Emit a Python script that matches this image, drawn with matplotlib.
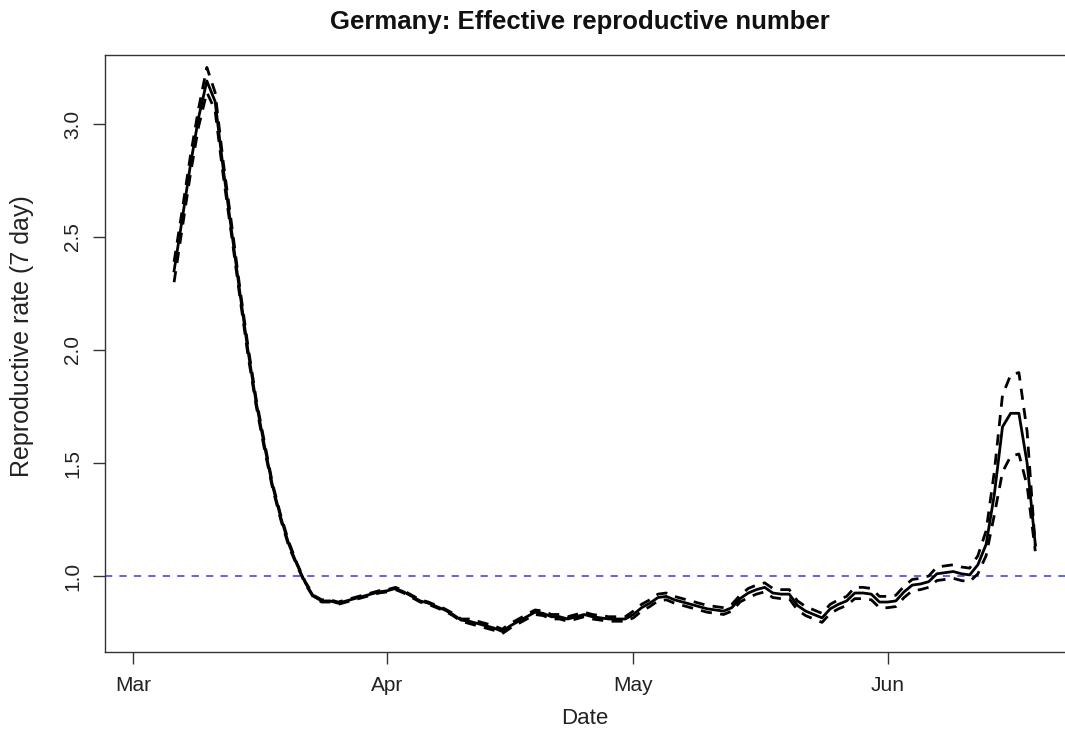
import numpy as np
import matplotlib
matplotlib.use("Agg")
import matplotlib.pyplot as plt
import matplotlib.dates as mdates
import datetime as dt

# daily estimates, 2020-03-06 .. 2020-06-19
start = dt.date(2020, 3, 6)
r_mid = [2.35, 2.58, 2.82, 3.03, 3.19, 3.10, 2.80, 2.53, 2.26, 2.00,
         1.77, 1.58, 1.40, 1.26, 1.14, 1.05, 0.97, 0.91, 0.89, 0.89,
         0.88, 0.89, 0.90, 0.91, 0.92, 0.93, 0.935, 0.945, 0.93, 0.91,
         0.89, 0.88, 0.865, 0.85, 0.83, 0.805, 0.80, 0.79, 0.78, 0.77,
         0.755, 0.78, 0.80, 0.82, 0.84, 0.835, 0.82, 0.82, 0.81, 0.82,
         0.83, 0.82, 0.815, 0.81, 0.81, 0.81, 0.83, 0.86, 0.88, 0.905,
         0.91, 0.895, 0.885, 0.875, 0.865, 0.855, 0.85, 0.845, 0.86, 0.90,
         0.925, 0.94, 0.95, 0.925, 0.92, 0.92, 0.87, 0.845, 0.83, 0.815,
         0.855, 0.875, 0.89, 0.925, 0.925, 0.92, 0.885, 0.885, 0.89, 0.93,
         0.96, 0.965, 0.975, 1.01, 1.015, 1.02, 1.01, 1.005, 1.05, 1.14,
         1.36, 1.66, 1.72, 1.72, 1.50, 1.14]
r_lo = [2.30, 2.54, 2.78, 2.99, 3.14, 3.06, 2.77, 2.51, 2.24, 1.98,
        1.755, 1.565, 1.39, 1.25, 1.13, 1.045, 0.965, 0.905, 0.885, 0.885,
        0.875, 0.885, 0.895, 0.905, 0.915, 0.925, 0.93, 0.94, 0.925, 0.905,
        0.885, 0.875, 0.86, 0.845, 0.825, 0.80, 0.79, 0.78, 0.77, 0.76,
        0.745, 0.77, 0.79, 0.81, 0.83, 0.825, 0.81, 0.81, 0.80, 0.81,
        0.82, 0.81, 0.805, 0.80, 0.80, 0.80, 0.815, 0.845, 0.865, 0.89,
        0.895, 0.88, 0.87, 0.86, 0.85, 0.84, 0.835, 0.83, 0.845, 0.885,
        0.905, 0.92, 0.93, 0.905, 0.90, 0.90, 0.85, 0.825, 0.81, 0.795,
        0.835, 0.855, 0.87, 0.90, 0.90, 0.895, 0.86, 0.86, 0.865, 0.905,
        0.935, 0.94, 0.95, 0.98, 0.985, 0.99, 0.98, 0.975, 1.01, 1.09,
        1.27, 1.46, 1.53, 1.54, 1.40, 1.11]
r_hi = [2.39, 2.62, 2.86, 3.07, 3.25, 3.14, 2.83, 2.56, 2.28, 2.02,
        1.785, 1.595, 1.41, 1.27, 1.15, 1.055, 0.975, 0.915, 0.895, 0.895,
        0.885, 0.895, 0.905, 0.915, 0.925, 0.935, 0.94, 0.95, 0.935, 0.915,
        0.895, 0.885, 0.87, 0.855, 0.835, 0.81, 0.81, 0.80, 0.79, 0.78,
        0.765, 0.79, 0.81, 0.83, 0.85, 0.845, 0.83, 0.83, 0.82, 0.83,
        0.84, 0.83, 0.825, 0.82, 0.82, 0.82, 0.845, 0.875, 0.895, 0.92,
        0.925, 0.91, 0.90, 0.89, 0.88, 0.87, 0.865, 0.86, 0.875, 0.915,
        0.945, 0.96, 0.97, 0.945, 0.94, 0.94, 0.89, 0.865, 0.85, 0.835,
        0.875, 0.895, 0.91, 0.95, 0.95, 0.945, 0.91, 0.91, 0.915, 0.955,
        0.985, 0.99, 1.00, 1.04, 1.045, 1.05, 1.04, 1.035, 1.09, 1.20,
        1.46, 1.80, 1.89, 1.90, 1.64, 1.13]

dates = [start + dt.timedelta(days=i) for i in range(len(r_mid))]
tick_dates = [dt.date(2020, 3, 1), dt.date(2020, 4, 1), dt.date(2020, 5, 1), dt.date(2020, 6, 1)]
tick_labels = ["Mar", "Apr", "May", "Jun"]

plt.rcParams['font.family'] = ['Liberation Sans', 'DejaVu Sans']

W, H = 1065, 734
fig = plt.figure(figsize=(W / 100, H / 100), dpi=100)
# right edge of the box lies just outside the picture, as in the original
ax = fig.add_axes([105 / W, 1 - 652 / H, 1.006 - 105 / W, (652 - 55) / H])

ax.axhline(1.0, color="#5555ee", lw=1.3, ls=(0, (4, 4)), zorder=1)
ax.plot(dates, r_mid, color="black", lw=2.0, zorder=3)
ax.plot(dates, r_lo, color="black", lw=2.0, ls=(0, (4, 3)), zorder=2)
ax.plot(dates, r_hi, color="black", lw=2.0, ls=(0, (4, 3)), zorder=2)

x0 = mdates.date2num(dt.date(2020, 3, 1))
ax.set_xlim(x0 - 3.42, x0 + 114.4)
ax.set_ylim(0.664, 3.305)

ax.set_xticks([mdates.date2num(d) for d in tick_dates])
ax.set_xticklabels(tick_labels)
ax.set_yticks([1.0, 1.5, 2.0, 2.5, 3.0])
ax.set_yticklabels(["1.0", "1.5", "2.0", "2.5", "3.0"], rotation=90, va="center")
ax.tick_params(direction="out", length=8.5, width=1, colors="#333333",
               labelsize=15, labelcolor="#222222", pad=9)
ax.tick_params(axis="y", pad=8)
for s in ax.spines.values():
    s.set_color("#333333")
    s.set_linewidth(1)

fig.text(585 / W, 1 - 718 / H, "Date", ha="center", va="center",
         fontsize=16, color="#222222")
fig.text(22 / W, 1 - 336 / H, "Reproductive rate (7 day)", ha="center", va="center",
         rotation=90, fontsize=18, color="#222222")
fig.text(580 / W, 1 - 22 / H, "Germany: Effective reproductive number",
         ha="center", va="center", fontsize=18.5, fontweight="bold", color="#111111")

fig.savefig("out.png", dpi=100)
